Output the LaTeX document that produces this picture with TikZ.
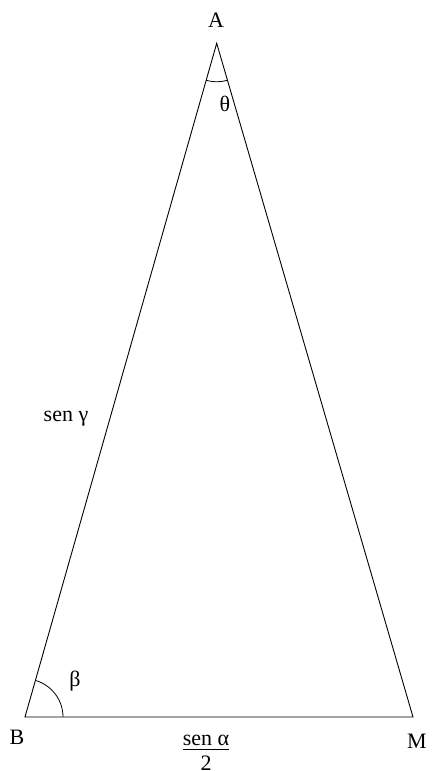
\documentclass[tikz,border=0pt]{standalone}
\usepackage{fontspec}
\setmainfont{Liberation Serif}
\usetikzlibrary{angles}
\begin{document}
\begin{tikzpicture}[x=1pt,y=1pt,
  lbl/.style={inner sep=0pt,font=\fontsize{22}{26}\selectfont},
  edge/.style={line width=0.9pt,line join=miter},
  angarc/.style={draw,line width=0.8pt}]
\useasboundingbox (0,0) rectangle (433,771);
\coordinate (A) at (216.7,727.7);
\coordinate (B) at (25,54);
\coordinate (M) at (413,54);
\draw[edge] (A) -- (B) -- (M) -- cycle;
\pic[angarc,angle radius=38pt] {angle = M--B--A};
\pic[angarc,angle radius=38.5pt] {angle = B--A--M};
\node[lbl] (lA) at (216,751) {A};
\node[lbl] (lB) at (17,34) {B};
\node[lbl] (lM) at (417,30) {M};
\node[lbl] (lth) at (225,667) {θ};
\node[lbl] (lbe) at (75,90) {β};
\node[lbl,anchor=base] (lg) at (66,349) {sen γ};
\node[lbl,anchor=base] (lfr) at (206,25.3) {\setlength{\arrayrulewidth}{0.9pt}\setlength{\tabcolsep}{0pt}%
  \begin{tabular}[t]{c}sen α\\[-4pt]\hline\rule{0pt}{20pt}2\\[-7.8pt]\end{tabular}};
\end{tikzpicture}
\end{document}
